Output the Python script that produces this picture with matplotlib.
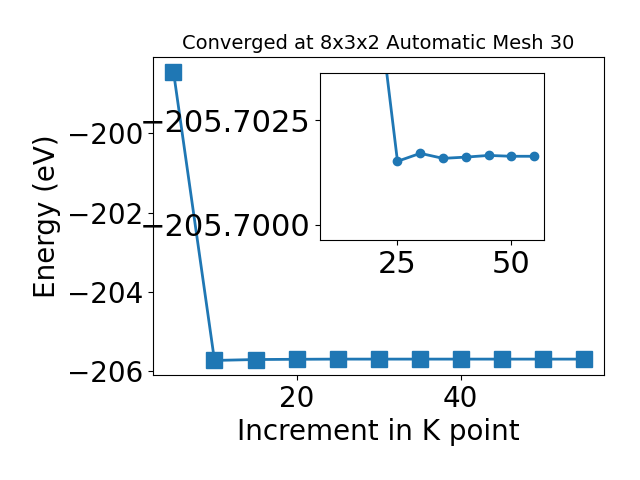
import numpy as np
import matplotlib
matplotlib.use("Agg")
import matplotlib.pyplot as plt

kpoints = [5, 10, 15, 20, 25, 30, 35, 40, 45, 50, 55]
energies = [-198.44, -205.735, -205.712, -205.706, -205.70152, -205.70171,
            -205.70159, -205.70162, -205.70166, -205.70164, -205.70164]

fig, ax = plt.subplots(figsize=(6.4, 4.8), dpi=100)
ax.plot(kpoints, energies, marker="s", markersize=11, linewidth=2)
ax.set_title("Converged at 8x3x2 Automatic Mesh 30", fontsize=14)
ax.set_xlabel("Increment in K point", fontsize=20)
ax.set_ylabel("Energy (eV)", fontsize=20)
ax.tick_params(labelsize=20)
fig.subplots_adjust(left=0.239, right=0.944, bottom=0.219, top=0.881)

# zoomed inset on the converged tail
axin = fig.add_axes([0.5, 0.5, 0.35, 0.348])
axin.plot(kpoints[2:], energies[2:], marker="o", linewidth=2)
axin.set_xlim(8, 57.15)
axin.set_ylim(-205.69964, -205.70363)
axin.set_xticks([25, 50])
axin.set_yticks([-205.7025, -205.7000])
axin.ticklabel_format(useOffset=False)
axin.tick_params(labelsize=22)

fig.savefig("out.png")
